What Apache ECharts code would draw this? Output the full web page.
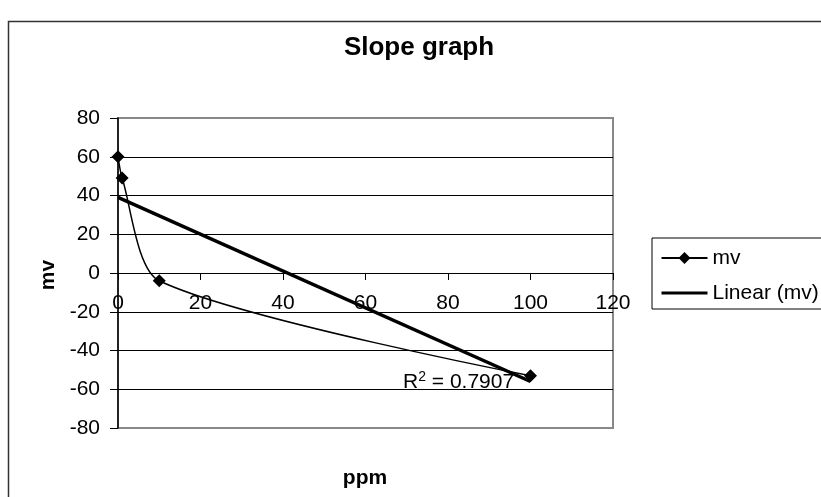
<!DOCTYPE html>
<html><head><meta charset="utf-8">
<script src="https://cdn.jsdelivr.net/npm/echarts@6/dist/echarts.min.js"></script>
<style>html,body{margin:0;padding:0;background:#fff}#c{width:821px;height:497px}</style>
</head><body><div id="c"></div>
<script>
// Data
const ppm = [0, 1, 10, 100];
const mv = [60, 49, -4, -53];
const trendPpm = [0, 100];
const trendMv = [39, -56];
const rSquared = '0.7907';
const titleText = 'Slope graph';
const xName = 'ppm';
const yName = 'mv';
const seriesName = 'mv';
const trendName = 'Linear (mv)';

const FONT = '"Liberation Sans", Arial, sans-serif';
const GRID = {left: 118, top: 118, width: 495, height: 310};
const Y_MIN = -80, Y_MAX = 80;
// x axis sits on y = 0: shift it up from the grid bottom
const xAxisOffset = -GRID.height * (0 - Y_MIN) / (Y_MAX - Y_MIN);

const chart = echarts.init(document.getElementById('c'), null, {renderer: 'canvas'});
chart.setOption({
  animation: false,
  backgroundColor: '#fff',
  grid: Object.assign({show: true, borderColor: '#888', borderWidth: 2, backgroundColor: 'transparent'}, GRID),
  xAxis: {
    type: 'value', min: 0, max: 120, interval: 20,
    offset: xAxisOffset,
    axisLine: {onZero: false, lineStyle: {color: '#000', width: 1}},
    axisTick: {show: true, inside: false, length: 7, lineStyle: {color: '#000'}},
    axisLabel: {margin: 20, color: '#000', fontFamily: FONT, fontSize: 21},
    splitLine: {show: false}
  },
  yAxis: {
    type: 'value', min: Y_MIN, max: Y_MAX, interval: 20,
    axisLine: {show: true, onZero: false, lineStyle: {color: '#000', width: 1.5}},
    axisTick: {show: true, inside: false, length: 8, lineStyle: {color: '#000'}},
    axisLabel: {margin: 18, color: '#000', fontFamily: FONT, fontSize: 21},
    splitLine: {show: true, showMinLine: false, showMaxLine: false, lineStyle: {color: '#000', width: 1}}
  },
  legend: {
    orient: 'vertical', left: 652, top: 238,
    itemWidth: 46, itemHeight: 15, itemGap: 11,
    padding: [8, 12, 4, 8],
    borderColor: '#000', borderWidth: 1,
    textStyle: {color: '#000', fontFamily: FONT, fontSize: 21, lineHeight: 24},
    data: [
      {name: seriesName},
      {name: trendName, itemStyle: {opacity: 0}, lineStyle: {width: 3}}
    ]
  },
  series: [
    {
      name: seriesName, type: 'line',
      data: ppm.map((x, i) => [x, mv[i]]),
      smooth: 0.25,
      symbol: 'diamond', symbolSize: 13,
      itemStyle: {color: '#000'},
      lineStyle: {color: '#000', width: 1.5},
      z: 3
    },
    {
      name: trendName, type: 'line',
      data: trendPpm.map((x, i) => [x, trendMv[i]]),
      symbol: 'none',
      itemStyle: {color: '#000'},
      lineStyle: {color: '#000', width: 3.5},
      z: 2
    }
  ],
  graphic: [
    {type: 'rect', shape: {x: 8.5, y: 21.5, width: 900, height: 600},
     style: {fill: 'none', stroke: '#333', lineWidth: 1.5}, silent: true, z: 0},
    {type: 'text', x: 419, y: 48, style: {text: titleText, fontFamily: FONT, fontSize: 26, fontWeight: 'bold',
      fill: '#000', align: 'center', verticalAlign: 'middle'}},
    {type: 'text', x: 365, y: 478, style: {text: xName, fontFamily: FONT, fontSize: 21, fontWeight: 'bold',
      fill: '#000', align: 'center', verticalAlign: 'middle'}},
    {type: 'text', x: 48, y: 275, rotation: Math.PI / 2, style: {text: yName, fontFamily: FONT, fontSize: 21, fontWeight: 'bold',
      fill: '#000', align: 'center', verticalAlign: 'middle'}},
    {type: 'text', x: 403, y: 382, z: 10, style: {
      rich: {
        a: {fontFamily: FONT, fontSize: 21, fill: '#000', color: '#000'},
        s: {fontFamily: FONT, fontSize: 14, fill: '#000', color: '#000', verticalAlign: 'top', padding: [0, 0, 10, 0]}
      },
      text: '{a|R}{s|2}{a| = ' + rSquared + '}',
      align: 'left', verticalAlign: 'middle'}}
  ]
});
</script></body></html>
